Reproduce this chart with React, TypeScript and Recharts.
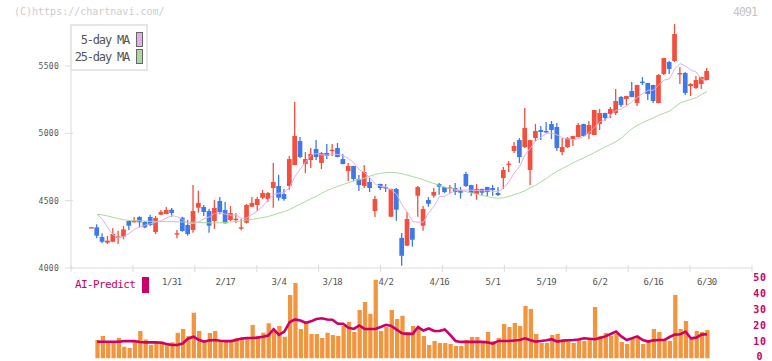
import React from 'react';
import { ComposedChart, Bar, Line, XAxis, YAxis, Legend } from 'recharts';

const FONT = '"DejaVu Sans Mono", monospace';
const RED = '#f2503e';
const BLUE = '#3d79e8';
const ORANGE = '#f1963f';
const MAGENTA = '#cc0066';
const PINK = '#e6aee6';
const GREEN = '#aad9a0';
const AXIS = '#dcdcdc';

const X_MIN = -3.87;
const X_MAX = 123.42;
const MARK_COUNT = 11;

const tickIdx = [15, 25, 35, 45, 55, 65, 75, 85, 95, 105, 115];
const tickLabels = ['1/31', '2/17', '3/4', '3/18', '4/2', '4/16', '5/1', '5/19', '6/2', '6/16', '6/30'];
const markTicks = Array.from({ length: MARK_COUNT + 1 }, (_, k) => X_MIN + (k * (X_MAX - X_MIN)) / MARK_COUNT);
const priceTicks = [4000, 4500, 5000, 5500];
const predTicks = [0, 10, 20, 30, 40, 50];

const opens = [
  4301, 4302, 4230, 4188, 4195, 4230, 4232, 4349, 4347, 4379,
  4342, 4379, 4267, 4396, 4401, 4433, 4256, 4374, 4319, 4282,
  4448, 4453, 4423, 4349, 4498, 4431, 4356, 4362, 4300, 4336,
  4455, 4468, 4522, 4512, 4594, 4609, 4549, 4609, 4765, 4943,
  4772, 4802, 4884, 4780, 4854, 4872, 4891, 4809, 4720, 4757,
  4661, 4609, 4639, 4423, 4624, 4601, 4381, 4587, 4223, 4166,
  4297, 4537, 4314, 4505, 4537, 4624, 4601, 4594, 4594, 4579,
  4698, 4616, 4549, 4587, 4601, 4594, 4557, 4668, 4770, 4869,
  4950, 4898, 4728, 4965, 5025, 5017, 5069, 5047, 4861, 4898,
  4958, 4973, 5069, 4995, 4988, 5069, 5151, 5144, 5151, 5270,
  5255, 5314, 5225, 5384, 5374, 5359, 5225, 5441, 5530, 5537,
  5441, 5448, 5351, 5337, 5366, 5396,
];
const highs = [
  4305, 4324, 4258, 4238, 4295, 4277, 4312, 4352, 4379, 4384,
  4349, 4396, 4386, 4431, 4453, 4446, 4282, 4380, 4356, 4616,
  4574, 4468, 4440, 4505, 4527, 4490, 4460, 4408, 4364, 4475,
  4527, 4527, 4579, 4564, 4780, 4691, 4586, 4832, 5233, 4973,
  4861, 4891, 4950, 4861, 4921, 4921, 4928, 4847, 4780, 4759,
  4691, 4765, 4668, 4535, 4626, 4624, 4589, 4594, 4260, 4416,
  4299, 4609, 4460, 4527, 4594, 4631, 4603, 4616, 4631, 4601,
  4715, 4618, 4624, 4589, 4603, 4616, 4601, 4750, 4795, 4936,
  4965, 5188, 4952, 5069, 5054, 5084, 5092, 5077, 4965, 4973,
  4982, 5077, 5071, 5092, 5175, 5181, 5153, 5196, 5329, 5277,
  5279, 5381, 5361, 5418, 5376, 5361, 5441, 5561, 5537, 5812,
  5493, 5455, 5374, 5426, 5420, 5485,
];
const lows = [
  4299, 4221, 4183, 4178, 4191, 4178, 4213, 4282, 4337, 4302,
  4295, 4312, 4252, 4391, 4399, 4381, 4221, 4270, 4240, 4262,
  4411, 4386, 4262, 4290, 4399, 4330, 4349, 4334, 4280, 4330,
  4452, 4426, 4512, 4492, 4448, 4500, 4500, 4581, 4763, 4817,
  4705, 4743, 4802, 4735, 4809, 4832, 4822, 4770, 4646, 4646,
  4572, 4594, 4564, 4379, 4579, 4564, 4379, 4351, 4017, 4164,
  4158, 4381, 4277, 4455, 4522, 4544, 4557, 4552, 4542, 4515,
  4601, 4535, 4507, 4542, 4535, 4535, 4535, 4587, 4713, 4854,
  4780, 4891, 4616, 4943, 4950, 5002, 4958, 4869, 4839, 4891,
  4906, 4971, 4978, 4958, 4986, 5025, 5092, 5114, 5136, 5196,
  5210, 5268, 5203, 5359, 5248, 5225, 5223, 5433, 5441, 5530,
  5366, 5285, 5277, 5329, 5329, 5394,
];
const closes = [
  4303, 4240, 4195, 4203, 4252, 4234, 4287, 4314, 4350, 4339,
  4302, 4319, 4371, 4416, 4431, 4408, 4258, 4275, 4252, 4423,
  4483, 4416, 4314, 4446, 4416, 4332, 4408, 4366, 4302, 4468,
  4483, 4512, 4557, 4557, 4639, 4522, 4512, 4809, 4980, 4824,
  4809, 4847, 4824, 4854, 4832, 4878, 4824, 4772, 4757, 4661,
  4616, 4713, 4594, 4512, 4594, 4594, 4587, 4433, 4091, 4364,
  4210, 4601, 4438, 4477, 4564, 4604, 4564, 4599, 4564, 4559,
  4609, 4557, 4587, 4559, 4564, 4579, 4542, 4728, 4775, 4906,
  4824, 5040, 4950, 5017, 5010, 5010, 5025, 4891, 4898, 4965,
  4980, 5062, 4980, 5062, 5173, 5151, 5114, 5181, 5240, 5210,
  5277, 5270, 5359, 5377, 5292, 5240, 5433, 5559, 5478, 5738,
  5448, 5300, 5366, 5396, 5418, 5463,
];
const ma5 = [
  null, 4401, 4362, 4300, 4245, 4225, 4232, 4257, 4287, 4305,
  4318, 4328, 4340, 4352, 4372, 4390, 4380, 4360, 4332, 4330,
  4342, 4366, 4380, 4405, 4410, 4400, 4392, 4395, 4368, 4372,
  4398, 4425, 4460, 4510, 4545, 4556, 4560, 4600, 4680, 4735,
  4790, 4840, 4850, 4840, 4838, 4847, 4843, 4834, 4814, 4780,
  4730, 4708, 4670, 4622, 4607, 4602, 4580, 4548, 4470, 4414,
  4345, 4340, 4340, 4412, 4460, 4530, 4532, 4556, 4576, 4578,
  4579, 4578, 4576, 4574, 4574, 4569, 4568, 4594, 4642, 4706,
  4755, 4840, 4890, 4945, 4972, 5000, 5002, 4988, 4967, 4958,
  4954, 4960, 4978, 5006, 5045, 5086, 5098, 5136, 5170, 5182,
  5205, 5234, 5268, 5295, 5320, 5320, 5360, 5395, 5405, 5480,
  5518, 5500, 5470, 5455, 5400, 5390,
];
const ma25 = [
  null, 4399, 4394, 4386, 4376, 4366, 4358, 4354, 4351, 4350,
  4348, 4347, 4346, 4345, 4345, 4344, 4343, 4342, 4341, 4340,
  4339, 4337, 4335, 4334, 4336, 4338, 4341, 4345, 4350, 4356,
  4362, 4368, 4374, 4382, 4395, 4408, 4418, 4435, 4455, 4475,
  4495, 4515, 4532, 4555, 4575, 4592, 4607, 4620, 4634, 4646,
  4656, 4668, 4682, 4695, 4703, 4708, 4710, 4708, 4700, 4690,
  4678, 4668, 4656, 4640, 4627, 4614, 4600, 4592, 4585, 4575,
  4567, 4558, 4548, 4538, 4530, 4522, 4518, 4522, 4532, 4545,
  4558, 4575, 4595, 4615, 4640, 4665, 4695, 4718, 4740, 4760,
  4782, 4800, 4818, 4838, 4858, 4878, 4900, 4918, 4938, 4965,
  5000, 5035, 5060, 5080, 5098, 5115, 5135, 5150, 5165, 5195,
  5225, 5240, 5252, 5265, 5290, 5309,
];
const volume = [
  null, 11.7, 14.2, 11.1, 11.1, 13, 7.5, 6.6, 10.4, 17.4,
  12.1, 8.5, 9.8, 10.9, 9.8, 10.3, 16.3, 18.7, 14.2, 29,
  17.4, 11.7, 16.1, 17.4, 11.7, 11.1, 11.1, 13, 13, 13.6,
  21.2, 14.2, 16.3, 22.3, 17, 20.6, 13.8, 40.2, 47.8, 18.7,
  22.5, 15.5, 15.5, 13, 16.3, 14.9, 14.2, 20.6, 23.1, 16.8,
  30.7, 35.8, 28.4, 50, 17.4, 19.9, 30.7, 25, 27, 16.8,
  20.6, 19, 14.2, 8.5, 11.1, 9.8, 9.8, 9.2, 7.9, 7.9,
  11.7, 13.6, 13.6, 11.1, 16.8, 11.1, 13, 21.8, 19.9, 22.5,
  20.6, 33.2, 31.3, 15.5, 9.8, 9.8, 14.9, 15.5, 11.7, 10.4,
  9.8, 11.7, 11.1, 11.7, 32.6, 14.2, 16.1, 14.2, 15.5, 10.4,
  9.2, 12.3, 13, 9.2, 11.7, 18.7, 16.8, 11.7, 11.1, 40.2,
  18.7, 23.7, 12.3, 17.4, 16.8, 18,
];
const aiPredict = [
  null, 10.6, 10.6, 10.6, 10.6, 10.6, 11.0, 11.0, 11.0, 10.4,
  10.2, 10.2, 10.2, 10.0, 9.2, 8.5, 8.5, 9.5, 12.5, 13.8,
  11.9, 10.6, 11.5, 11.7, 11.2, 11.0, 11.0, 11.7, 12.6, 13.0,
  13.0, 13.2, 13.8, 14.5, 18.5, 15.0, 17.0, 23.0, 24.7, 24.0,
  22.6, 23.5, 25.0, 25.5, 24.7, 24.5, 22.0, 22.0, 19.5, 18.7,
  20.9, 18.7, 18.7, 18.7, 19.9, 21.3, 20.6, 18.3, 16.0, 15.6,
  15.6, 19.9, 17.7, 19.0, 17.4, 17.4, 18.4, 14.9, 11.1, 10.5,
  10.5, 10.5, 10.5, 10.5, 10.2, 9.4, 11.1, 11.1, 11.1, 11.4,
  11.7, 12.8, 11.5, 10.7, 11.1, 11.5, 12.2, 10.7, 11.3, 11.5,
  11.7, 12.0, 12.8, 12.5, 12.2, 13.0, 14.0, 15.5, 17.0, 14.0,
  11.7, 12.8, 14.0, 11.7, 10.7, 11.5, 11.7, 11.7, 13.6, 15.1,
  15.3, 17.0, 12.8, 13.2, 15.1, 15.3,
];

const data = opens.map((o, i) => ({
  i,
  open: o,
  high: highs[i],
  low: lows[i],
  close: closes[i],
  range: [lows[i], highs[i]],
  ma5: ma5[i],
  ma25: ma25[i],
  vol: volume[i],
  ai: aiPredict[i],
}));

const Candle = (props: any) => {
  const { x, y, width, height, payload } = props;
  if (x == null || y == null || !payload) return null;
  const { open, close, high, low } = payload;
  const color = close >= open ? RED : BLUE;
  const top = Math.min(y, y + height);
  const h = Math.abs(height);
  const ratio = high !== low ? h / (high - low) : 0;
  const cx = x + width / 2;
  const bTop = top + (high - Math.max(open, close)) * ratio;
  const bBot = top + (high - Math.min(open, close)) * ratio;
  const bh = Math.max(bBot - bTop, 1.4);
  return (
    <g>
      <line x1={cx} x2={cx} y1={top} y2={top + h} stroke={color} strokeWidth={1.3} />
      <rect x={x} y={bTop} width={width} height={bh} fill={color} />
    </g>
  );
};

const DateTick = (props: any) => {
  const { x, y, payload } = props;
  const k = tickIdx.indexOf(payload.value);
  return (
    <text x={x} y={y + 17} textAnchor="middle" fontSize={9} letterSpacing={-0.5} fill="#555" fontFamily={FONT}>
      {k >= 0 ? tickLabels[k] : ''}
    </text>
  );
};

const MarkTick = (props: any) => {
  const { x, y } = props;
  return <line x1={x} x2={x} y1={y - 4} y2={y + 3} stroke={AXIS} strokeWidth={1} />;
};

const PriceTick = (props: any) => {
  const { x, y, payload } = props;
  return (
    <g>
      <line x1={x - 6} x2={x + 2} y1={y} y2={y} stroke={AXIS} strokeWidth={1} />
      <text x={x - 12} y={y + 3} textAnchor="end" fontSize={8} letterSpacing={0.3} fill="#555" fontFamily={FONT}>
        {payload.value}
      </text>
    </g>
  );
};

const PredTick = (props: any) => {
  const { x, y, payload } = props;
  return (
    <text x={x + 8} y={y + 1.8} textAnchor="middle" fontSize={10} fontWeight="bold" letterSpacing={0.8} fill={MAGENTA} fontFamily={FONT}>
      {payload.value}
    </text>
  );
};

const MaLegend = () => (
  <div
    style={{
      width: 78,
      height: 47,
      boxSizing: 'border-box',
      border: '2px solid #e6e6e6',
      background: '#fff',
      fontFamily: FONT,
      fontSize: 12,
      letterSpacing: -1.2,
      color: '#555',
      paddingTop: 5,
    }}
  >
    {[
      { name: '5-day MA', color: PINK },
      { name: '25-day MA', color: GREEN },
    ].map((e) => (
      <div key={e.name} style={{ display: 'flex', justifyContent: 'flex-end', alignItems: 'center', height: 17, paddingRight: 3 }}>
        <span style={{ lineHeight: '14px' }}>{e.name}</span>
        <span
          style={{
            display: 'inline-block',
            width: 5,
            height: 13,
            marginLeft: 7,
            background: e.color,
            border: '1px solid #666',
          }}
        />
      </div>
    ))}
  </div>
);

const AiLegend = () => (
  <div style={{ display: 'flex', alignItems: 'center', fontFamily: FONT, fontSize: 11, letterSpacing: -0.6, color: MAGENTA, height: 16 }}>
    <span style={{ lineHeight: '14px' }}>AI-Predict</span>
    <span style={{ display: 'inline-block', width: 7, height: 16, marginLeft: 7, background: MAGENTA }} />
  </div>
);

export default function App() {
  return (
    <div style={{ position: 'absolute', left: 0, top: 0, width: 772, height: 361, background: '#fff', overflow: 'hidden' }}>
      <div style={{ position: 'absolute', left: 0, top: 0 }}>
        <ComposedChart width={772} height={361} data={data} margin={{ top: 279.5, right: 0, bottom: 2.5, left: 71 }}>
          <XAxis dataKey="i" type="number" domain={[X_MIN, X_MAX]} ticks={tickIdx} hide height={0} allowDataOverflow />
          <YAxis
            orientation="right"
            type="number"
            domain={[0, 50]}
            ticks={predTicks}
            interval={0}
            width={20}
            axisLine={false}
            tickLine={false}
            tickSize={0}
            tickMargin={0}
            tick={<PredTick />}
            allowDataOverflow
          />
          <Legend
            layout="vertical"
            verticalAlign="middle"
            align="center"
            wrapperStyle={{ left: 75, top: 277, width: 80, height: 16 }}
            content={() => <AiLegend />}
          />
          <Bar dataKey="vol" fill={ORANGE} barSize={4.3} isAnimationActive={false} />
          <Line dataKey="ai" type="linear" stroke={MAGENTA} strokeWidth={2.6} dot={false} isAnimationActive={false} />
        </ComposedChart>
      </div>
      <div style={{ position: 'absolute', left: 0, top: 0 }}>
        <ComposedChart width={772} height={361} data={data} margin={{ top: 24, right: 20, bottom: 91, left: 0 }}>
          <XAxis
            dataKey="i"
            type="number"
            domain={[X_MIN, X_MAX]}
            ticks={tickIdx}
            interval={0}
            height={1}
            axisLine={{ stroke: AXIS }}
            tickLine={false}
            tickSize={0}
            tickMargin={0}
            tick={<DateTick />}
            allowDataOverflow
          />
          <XAxis
            xAxisId="marks"
            dataKey="i"
            type="number"
            domain={[X_MIN, X_MAX]}
            ticks={markTicks}
            interval={0}
            height={1}
            axisLine={false}
            tickLine={false}
            tickSize={0}
            tickMargin={0}
            tick={<MarkTick />}
            allowDataOverflow
          />
          <YAxis
            type="number"
            domain={[4000, 5812]}
            ticks={priceTicks}
            interval={0}
            width={71}
            axisLine={{ stroke: AXIS }}
            tickLine={false}
            tickSize={0}
            tickMargin={0}
            tick={<PriceTick />}
            allowDataOverflow
          />
          <Legend
            layout="vertical"
            verticalAlign="middle"
            align="center"
            wrapperStyle={{ left: 70, top: 24, width: 78, height: 47 }}
            content={() => <MaLegend />}
          />
          <Line dataKey="ma25" type="linear" stroke={GREEN} strokeWidth={1} dot={false} isAnimationActive={false} />
          <Line dataKey="ma5" type="linear" stroke={PINK} strokeWidth={1} dot={false} isAnimationActive={false} />
          <Bar dataKey="range" barSize={4.7} shape={<Candle />} isAnimationActive={false} />
        </ComposedChart>
      </div>
      <div style={{ position: 'absolute', left: 14, top: 6, fontFamily: FONT, fontSize: 10, color: '#cdcdcd', whiteSpace: 'nowrap' }}>
        (C)https://chartnavi.com/
      </div>
      <div style={{ position: 'absolute', left: 733, top: 5, fontFamily: FONT, fontSize: 11.5, letterSpacing: -0.9, color: '#c4c4c4' }}>
        4091
      </div>
    </div>
  );
}
